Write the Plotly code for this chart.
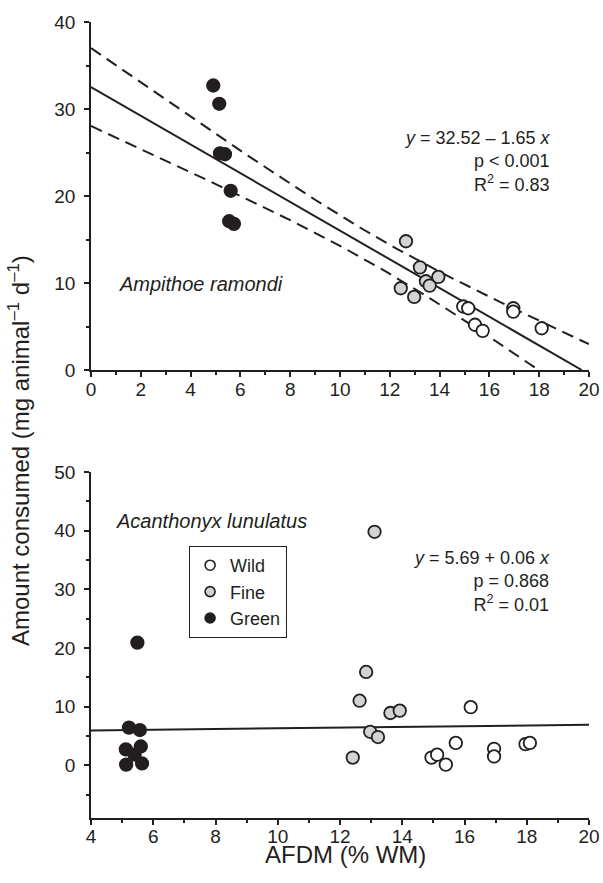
import numpy as np
import plotly.graph_objects as go

# ---------------- data ----------------
# Ampithoe ramondi (top panel)
wild_x_A = [14.95, 15.15, 15.42, 15.73, 16.96, 16.96, 18.10]
wild_y_A = [7.3, 7.1, 5.2, 4.5, 7.1, 6.7, 4.8]
fine_x_A = [12.44, 12.65, 12.98, 13.21, 13.45, 13.60, 13.95]
fine_y_A = [9.4, 14.8, 8.4, 11.8, 10.2, 9.7, 10.7]
green_x_A = [4.91, 5.15, 5.18, 5.38, 5.55, 5.61, 5.74]
green_y_A = [32.7, 30.6, 24.9, 24.8, 17.1, 20.6, 16.8]
A_intercept, A_slope = 32.52, -1.65
A_stats = ["<i>y</i> = 32.52 – 1.65 <i>x</i>", "p &lt; 0.001", "R<sup>2</sup> = 0.83"]

# Acanthonyx lunulatus (bottom panel)
wild_x_L = [14.94, 15.12, 15.40, 15.72, 16.20, 16.95, 16.95, 17.96, 18.10]
wild_y_L = [1.3, 1.8, 0.1, 3.8, 9.9, 2.8, 1.5, 3.6, 3.8]
fine_x_L = [12.41, 12.63, 12.84, 12.97, 13.11, 13.22, 13.62, 13.92]
fine_y_L = [1.3, 11.0, 15.9, 5.7, 39.8, 4.8, 8.9, 9.3]
green_x_L = [5.49, 5.22, 5.57, 5.12, 5.60, 5.40, 5.13, 5.64]
green_y_L = [20.9, 6.4, 6.0, 2.7, 3.2, 1.8, 0.1, 0.3]
L_intercept, L_slope = 5.69, 0.06
L_stats = ["<i>y</i> = 5.69 + 0.06 <i>x</i>", "p = 0.868", "R<sup>2</sup> = 0.01"]

categories = ["Wild", "Fine", "Green"]
species = ["Ampithoe ramondi", "Acanthonyx lunulatus"]
x_title = "AFDM (% WM)"
y_title = "Amount consumed (mg animal<sup>–1</sup> d<sup>–1</sup>)"

# ---------------- styles ----------------
INK = "#231f20"
FILL = {"Wild": "#ffffff", "Fine": "#d1d3d4", "Green": "#231f20"}
FONT = "Liberation Sans, Arial, Helvetica, sans-serif"

fig = go.Figure()

def add_points(xs, ys, cat, xa, ya):
    fig.add_trace(go.Scatter(
        x=xs, y=ys, mode="markers", xaxis=xa, yaxis=ya, showlegend=False,
        marker=dict(size=12.5, color=FILL[cat], line=dict(color=INK, width=1.8)),
    ))

# regression for top panel + 95% confidence band
xa_all = np.array(wild_x_A + fine_x_A + green_x_A)
ya_all = np.array(wild_y_A + fine_y_A + green_y_A)
n = len(xa_all)
resid = ya_all - (A_intercept + A_slope * xa_all)
s = np.sqrt(np.sum(resid ** 2) / (n - 2))
xbar = xa_all.mean()
sxx = np.sum((xa_all - xbar) ** 2)
t95 = 2.093  # t(0.975, df=19)
xs = np.linspace(0, 20, 201)
fit = A_intercept + A_slope * xs
half = t95 * s * np.sqrt(1.0 / n + (xs - xbar) ** 2 / sxx)

for band in (fit + half, fit - half):
    fig.add_trace(go.Scatter(x=xs, y=band, mode="lines", xaxis="x", yaxis="y",
                             showlegend=False, hoverinfo="skip",
                             line=dict(color=INK, width=2, dash="12px,7px")))
x_end = -A_intercept / A_slope
fig.add_trace(go.Scatter(x=[0, x_end], y=[A_intercept, A_intercept + A_slope * x_end],
                         mode="lines", xaxis="x", yaxis="y", showlegend=False,
                         line=dict(color=INK, width=2)))

add_points(wild_x_A, wild_y_A, "Wild", "x", "y")
add_points(fine_x_A, fine_y_A, "Fine", "x", "y")
add_points(green_x_A, green_y_A, "Green", "x", "y")

# bottom panel regression
fig.add_trace(go.Scatter(x=[4, 20], y=[L_intercept + L_slope * 4, L_intercept + L_slope * 20],
                         mode="lines", xaxis="x2", yaxis="y2", showlegend=False,
                         line=dict(color=INK, width=2)))
add_points(wild_x_L, wild_y_L, "Wild", "x2", "y2")
add_points(fine_x_L, fine_y_L, "Fine", "x2", "y2")
add_points(green_x_L, green_y_L, "Green", "x2", "y2")

# legend-only entries
for cat in categories:
    fig.add_trace(go.Scatter(x=[None], y=[None], mode="markers", name=cat,
                             xaxis="x2", yaxis="y2",
                             marker=dict(size=10, color=FILL[cat], line=dict(color=INK, width=1.6))))

axis_common = dict(showgrid=False, zeroline=False, showline=True, linecolor=INK, linewidth=1.5,
                   ticks="outside", ticklen=5, tickwidth=1.5, tickcolor=INK, automargin=False,
                   tickfont=dict(size=19, color=INK, family=FONT), mirror=False)
minor_x = dict(dtick=1, ticklen=3.5, tickwidth=1.5, tickcolor=INK, ticks="outside")
minor_y = dict(dtick=5, tick0=0, ticklen=3.5, tickwidth=1.5, tickcolor=INK, ticks="outside")

fig.update_layout(
    width=603, height=883,
    margin=dict(l=91, r=14, t=22, b=65),
    paper_bgcolor="white", plot_bgcolor="white",
    font=dict(family=FONT, color=INK),
    xaxis=dict(domain=[0, 1], range=[0, 20], dtick=2, anchor="y", minor=minor_x,
               ticklabelstandoff=-4, **axis_common),
    yaxis=dict(domain=[0.5628, 1], range=[0, 40], dtick=10, anchor="x", minor=minor_y,
               ticklabelstandoff=5, **axis_common),
    xaxis2=dict(domain=[0, 1], range=[4, 20], dtick=2, anchor="y2", minor=minor_x,
                ticklabelstandoff=-5, **axis_common),
    yaxis2=dict(domain=[0, 0.4347], range=[-9, 50], dtick=10, tick0=0, anchor="x2",
                minor=minor_y, ticklabelstandoff=5, **axis_common),
    legend=dict(x=0.197, y=0.3417, xanchor="left", yanchor="top",
                bordercolor=INK, borderwidth=1, bgcolor="white",
                font=dict(size=18, color=INK, family=FONT),
                itemsizing="trace", traceorder="normal"),
    annotations=[
        dict(text="<br>".join(A_stats), xref="x", yref="y", x=18.55, y=24.0,
             xanchor="right", yanchor="middle", align="right", showarrow=False,
             font=dict(size=18, color=INK, family=FONT)),
        dict(text="<br>".join(L_stats), xref="x2", yref="y2", x=18.81, y=31.4,
             xanchor="right", yanchor="middle", align="right", showarrow=False,
             font=dict(size=18, color=INK, family=FONT)),
        dict(text="<i>" + species[0] + "</i>", xref="x", yref="y", x=1.05, y=9.9,
             xanchor="left", yanchor="middle", showarrow=False,
             font=dict(size=20, color=INK, family=FONT)),
        dict(text="<i>" + species[1] + "</i>", xref="x2", yref="y2", x=4.74, y=41.7,
             xanchor="left", yanchor="middle", showarrow=False,
             font=dict(size=20, color=INK, family=FONT)),
        dict(text=y_title, xref="paper", yref="paper", x=-0.145, y=0.462,
             xanchor="center", yanchor="middle", textangle=-90, showarrow=False,
             font=dict(size=24, color=INK, family=FONT)),
        dict(text=x_title, xref="paper", yref="paper", x=0.512, y=-0.046,
             xanchor="center", yanchor="middle", showarrow=False,
             font=dict(size=24, color=INK, family=FONT)),
    ],
)

# remove the default page margin / scrollbars so the 603x883 figure fills the window exactly
fig.write_html(
    "out.html",
    config={"displayModeBar": False, "responsive": False},
    post_script=(
        "document.documentElement.style.margin='0';"
        "document.documentElement.style.overflow='hidden';"
        "document.body.style.margin='0';"
        "document.body.style.overflow='hidden';"
    ),
)
